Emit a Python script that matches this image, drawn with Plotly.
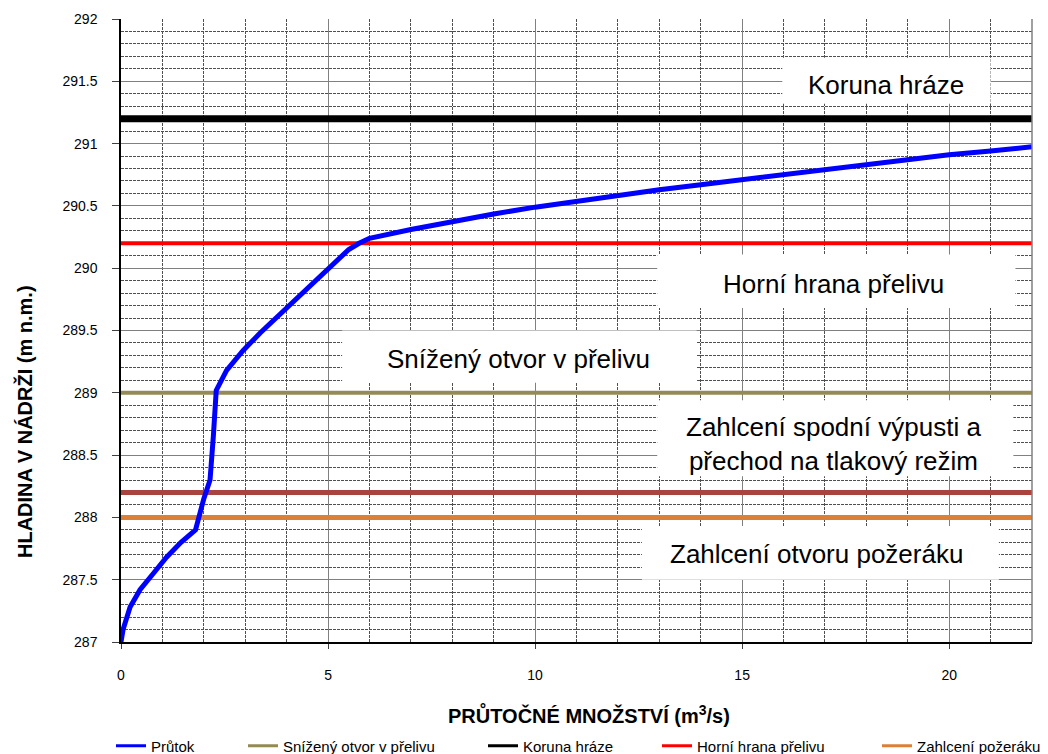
import plotly.graph_objects as go

# Rating curve: discharge (m3/s) vs. reservoir water level (m n.m.)
prutok_q = [0.0, 0.05, 0.22, 0.46, 0.78, 1.1, 1.45, 1.8, 2.0, 2.15, 2.23, 2.3, 2.55, 2.95,
            3.36, 4.0, 4.5, 5.0, 5.5, 5.75, 6.0, 7.0, 8.0, 9.0, 10.0, 11.0, 12.0, 13.0,
            14.0, 15.0, 16.0, 17.0, 18.0, 19.0, 20.0, 21.0, 22.0]
prutok_h = [287.0, 287.1, 287.28, 287.42, 287.55, 287.68, 287.8, 287.9, 288.15, 288.3, 288.65,
            289.02, 289.18, 289.34, 289.48, 289.68, 289.84, 290.0, 290.15, 290.2, 290.24,
            290.31, 290.375, 290.435, 290.49, 290.54, 290.58, 290.63, 290.67, 290.71, 290.75,
            290.79, 290.83, 290.87, 290.91, 290.94, 290.975]

# Characteristic levels (m n.m.)
x_span = [0, 22]
lvl_snizeny = 289.0
lvl_koruna = 291.2
lvl_horni = 290.2
lvl_vypust = 288.2
lvl_pozerak = 288.0

# Descriptive text boxes: label, x-range, y-range, text centre
box_labels = ["Koruna hráze", "Horní hrana přelivu", "Snížený otvor v přelivu",
              "Zahlcení spodní výpusti a<br>přechod na tlakový režim", "Zahlcení otvoru požeráku"]
box_x0 = [15.97, 12.95, 5.34, 12.95, 12.58]
box_x1 = [21.0, 21.6, 13.9, 21.55, 21.2]
box_y0 = [291.32, 289.68, 289.08, 288.33, 287.50]
box_y1 = [291.69, 290.11, 289.50, 288.94, 287.93]
text_x = [18.48, 17.2, 9.59, 17.2, 16.8]
text_y = [291.47, 289.875, 289.27, 288.59, 287.71]

FONT = "Liberation Sans, Arial, sans-serif"
W, H = 1048, 754
ML, MR, MT, MB = 121, 16, 19, 112
PW, PH = W - ML - MR, H - MT - MB

fig = go.Figure()

# (name, colour, plot width, legend id, legend x in px)
series = [
    ("Snížený otvor v přelivu", "#948A54", 4, "legend2", 243),
    ("Koruna hráze", "#000000", 7, "legend3", 483),
    ("Horní hrana přelivu", "#FF0000", 4, "legend4", 657),
    ("Zahlcení požeráku", "#DD8037", 5, "legend5", 877),
]
levels = [lvl_snizeny, lvl_koruna, lvl_horni, lvl_pozerak]

for (name, col, w, leg, lx), lvl in zip(series, levels):
    fig.add_trace(go.Scatter(x=x_span, y=[lvl] * 2, mode="lines", name=name,
                             line=dict(color=col, width=w), showlegend=False))
fig.add_trace(go.Scatter(x=x_span, y=[lvl_vypust] * 2, mode="lines", name="Zahlcení spodní výpusti",
                         line=dict(color="#A94340", width=5), showlegend=False))
fig.add_trace(go.Scatter(x=prutok_q, y=prutok_h, mode="lines", name="Průtok",
                         line=dict(color="#0000FF", width=5), showlegend=False))

# Legend entries (thin line samples), each in its own legend slot
legend_items = [("Průtok", "#0000FF", "legend", 111)] + [(s[0], s[1], s[3], s[4]) for s in series]
legend_layout = {}
for name, col, leg, lx in legend_items:
    fig.add_trace(go.Scatter(x=[None], y=[None], mode="lines", name=name,
                             line=dict(color=col, width=3), legend=leg, showlegend=True))
    legend_layout[leg] = dict(orientation="h", x=(lx - ML) / PW, xanchor="left",
                              y=-(746 - (MT + PH)) / PH, yanchor="middle",
                              font=dict(family=FONT, size=15, color="black"),
                              bgcolor="rgba(0,0,0,0)", borderwidth=0)

for lbl, x0, x1, y0, y1, tx, ty in zip(box_labels, box_x0, box_x1, box_y0, box_y1, text_x, text_y):
    fig.add_shape(type="rect", x0=x0, x1=x1, y0=y0, y1=y1, xref="x", yref="y",
                  fillcolor="white", line=dict(width=0), layer="between")
    fig.add_annotation(x=tx, y=ty, xref="x", yref="y", text=lbl, showarrow=False,
                       font=dict(family=FONT, size=26, color="black"), align="center")

# Right frame edge
fig.add_shape(type="line", x0=1, x1=1, y0=0, y1=1, xref="paper", yref="paper",
              line=dict(color="#808080", width=1.5))

# Axis titles
fig.add_annotation(x=(589 - ML) / PW, y=-(715 - (MT + PH)) / PH, xref="paper", yref="paper",
                   showarrow=False, text="<b>PRŮTOČNÉ MNOŽSTVÍ (m<sup>3</sup>/s)</b>",
                   font=dict(family=FONT, size=20, color="black"), yanchor="middle")
fig.add_annotation(x=(24 - ML) / PW, y=1 - (422 - MT) / PH, xref="paper", yref="paper",
                   showarrow=False, text="<b>HLADINA V NÁDRŽI (m n.m.)</b>", textangle=-90,
                   font=dict(family=FONT, size=20, color="black"), xanchor="center")

fig.update_xaxes(range=[0, 22], tick0=0, dtick=5, showgrid=True, gridcolor="#808080", gridwidth=1,
                 minor=dict(dtick=1, showgrid=True, gridcolor="#505050", griddash="3px,1px", gridwidth=1),
                 showline=True, linecolor="black", linewidth=1.5, ticks="outside", ticklen=5,
                 tickcolor="#404040", ticklabelstandoff=14, zeroline=False,
                 tickfont=dict(family=FONT, size=14, color="black"))
fig.update_yaxes(range=[287, 292], tick0=287, dtick=0.5, showgrid=True, gridcolor="#808080", gridwidth=1,
                 minor=dict(dtick=0.1, showgrid=True, gridcolor="#505050", griddash="3px,1px", gridwidth=1),
                 showline=True, linecolor="black", linewidth=1.5, ticks="outside", ticklen=7,
                 tickcolor="#404040", ticklabelstandoff=12, zeroline=False,
                 tickfont=dict(family=FONT, size=14, color="black"))

fig.update_layout(
    width=W, height=H,
    margin=dict(l=ML, r=MR, t=MT, b=MB, autoexpand=False),
    paper_bgcolor="white", plot_bgcolor="white",
    font=dict(family=FONT, color="black"),
    showlegend=True,
    **legend_layout,
)

fig.write_html("out.html")
